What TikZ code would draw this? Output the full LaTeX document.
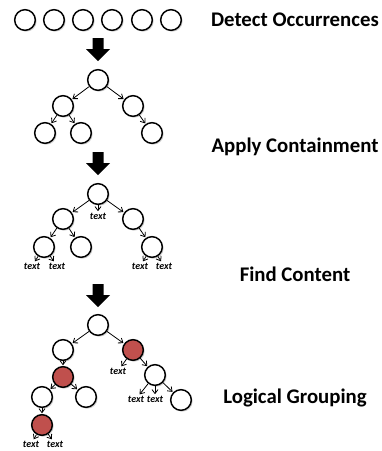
\documentclass[tikz,border=0pt]{standalone}
\usepackage{fontspec}
\setmainfont{Carlito}
\usetikzlibrary{arrows.meta,shadows}
\definecolor{offred}{HTML}{C0504D}
\tikzset{
  circ/.style={circle,draw=black,line width=1.1pt,fill=white,minimum size=15.5pt,inner sep=0pt,
    drop shadow={opacity=0.35,shadow xshift=1pt,shadow yshift=-1pt}},
  redc/.style={circ,fill=offred},
  lbl/.style={font=\fontsize{7.5}{8}\selectfont\bfseries\itshape,inner sep=0.5pt},
  title/.style={font=\fontsize{15.6}{18}\selectfont\bfseries},
  link/.style={-{Straight Barb[length=3pt,width=4.5pt]},line width=0.6pt,shorten >=0.5pt},
  blockarrow/.style={fill=black},
}
\begin{document}
\begin{tikzpicture}[x=0.75pt,y=-0.75pt]
\useasboundingbox (0,0) rectangle (382,451);
% titles
\node[title] (t1) at (295,20) {Detect Occurrences};
\node[title] (t2) at (295,147) {Apply Containment};
\node[title] (t3) at (295,274) {Find Content};
\node[title] (t4) at (295,398) {Logical Grouping};
% block arrows
\foreach \y in {38,152,284}{
  \fill[blockarrow] (92.5,\y) -- (103.5,\y) -- (103.5,\y+11) -- (110,\y+11) -- (98,\y+23) -- (86,\y+11) -- (92.5,\y+11) -- cycle;
}
% row 1
\foreach \i/\x in {1/25,2/54,3/83,4/112,5/142,6/171}{
  \node[circ] (d\i) at (\x,20) {};
}
% tree A
\node[circ] (a0) at (98,80) {};
\node[circ] (a1) at (63,106) {};
\node[circ] (a2) at (133,106) {};
\node[circ] (a3) at (45,133) {};
\node[circ] (a4) at (81,133) {};
\node[circ] (a5) at (152,133) {};
\draw[link] (a0) -- (a1);
\draw[link] (a0) -- (a2);
\draw[link] (a1) -- (a3);
\draw[link] (a1) -- (a4);
\draw[link] (a2) -- (a5);
% tree B
\node[circ] (b0) at (98,194) {};
\node[circ] (b1) at (63,219) {};
\node[circ] (b2) at (133,219) {};
\node[circ] (b3) at (44,247) {};
\node[circ] (b4) at (81,247) {};
\node[circ] (b5) at (152,247) {};
\node[lbl] (bt0) at (98,216) {text};
\node[lbl] (bt1) at (32,266) {text};
\node[lbl] (bt2) at (57,266) {text};
\node[lbl] (bt3) at (140,266) {text};
\node[lbl] (bt4) at (164,266) {text};
\draw[link] (b0) -- (b1);
\draw[link] (b0) -- (b2);
\draw[link] (b0) -- (bt0);
\draw[link] (b1) -- (b3);
\draw[link] (b1) -- (b4);
\draw[link] (b2) -- (b5);
\draw[link] (b3) -- (bt1);
\draw[link] (b3) -- (bt2);
\draw[link] (b5) -- (bt3);
\draw[link] (b5) -- (bt4);
% tree C
\node[circ] (c0) at (98,325) {};
\node[circ] (c1) at (63,350) {};
\node[redc] (c2) at (133,350) {};
\node[redc] (c3) at (63,377) {};
\node[circ] (c4) at (42,397) {};
\node[circ] (c5) at (86,397) {};
\node[redc] (c6) at (42,425) {};
\node[circ] (c7) at (155,375) {};
\node[circ] (c8) at (181,400) {};
\node[lbl] (ct0) at (118,371) {text};
\node[lbl] (ct1) at (31,444) {text};
\node[lbl] (ct2) at (55,444) {text};
\node[lbl] (ct3) at (136,399) {text};
\node[lbl] (ct4) at (155,399) {text};
\draw[link] (c0) -- (c1);
\draw[link] (c0) -- (c2);
\draw[link] (c1) -- (c3);
\draw[link] (c3) -- (c4);
\draw[link] (c3) -- (c5);
\draw[link] (c4) -- (c6);
\draw[link] (c6) -- (ct1);
\draw[link] (c6) -- (ct2);
\draw[link] (c2) -- (ct0);
\draw[link] (c2) -- (c7);
\draw[link] (c7) -- (ct3);
\draw[link] (c7) -- (ct4);
\draw[link] (c7) -- (c8);
\end{tikzpicture}
\end{document}
